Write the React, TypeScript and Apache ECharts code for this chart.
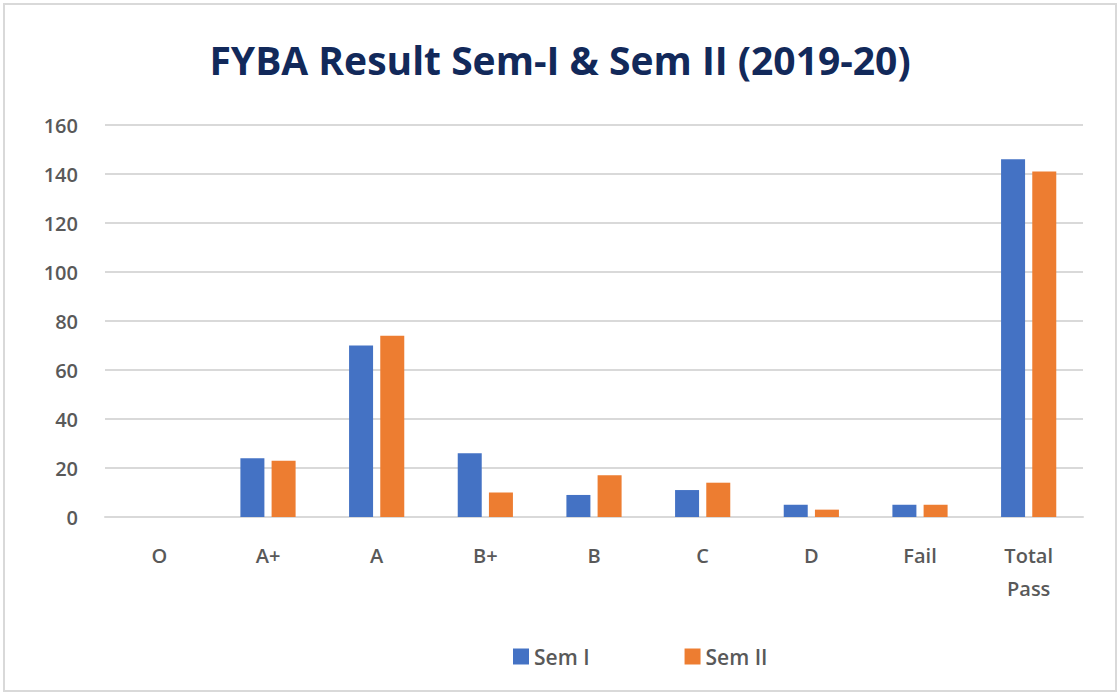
import React, { useEffect, useRef } from "react";
import * as echarts from "echarts";

const categories = ["O", "A+", "A", "B+", "B", "C", "D", "Fail", "Total\nPass"];
const semI = [0, 24, 70, 26, 9, 11, 5, 5, 146];
const semII = [0, 23, 74, 10, 17, 14, 3, 5, 141];
const seriesNames = ["Sem I", "Sem II"];
const titleText = "FYBA Result Sem-I & Sem II (2019-20)";

export default function App() {
  const ref = useRef<HTMLDivElement>(null);
  useEffect(() => {
    document.body.style.margin = "0";
    const chart = echarts.init(ref.current!, null, { renderer: "svg" });
    const font = "'Open Sans', 'Liberation Sans', sans-serif";
    chart.setOption({
      animation: false,
      backgroundColor: "#ffffff",
      textStyle: { fontFamily: font },
      title: {
        text: titleText,
        left: "center",
        top: 35,
        textStyle: { fontSize: 39, fontWeight: "bold", color: "#12295a", fontFamily: font },
      },
      legend: {
        data: seriesNames,
        bottom: 23,
        left: 508,
        itemWidth: 16,
        itemHeight: 16,
        itemGap: 95,
        icon: "rect",
        textStyle: { fontSize: 21, color: "#595959", fontWeight: 600, fontFamily: font },
      },
      grid: { left: 105, right: 37, top: 125, bottom: 178, containLabel: false },
      xAxis: {
        type: "category",
        data: categories,
        axisLine: { show: true, lineStyle: { color: "#d9d9d9", width: 2 } },
        axisTick: { show: false },
        axisLabel: { fontSize: 20, color: "#595959", fontWeight: 600, margin: 22, lineHeight: 33, fontFamily: font },
      },
      yAxis: {
        type: "value",
        min: 0,
        max: 160,
        interval: 20,
        axisLine: { show: false },
        axisTick: { show: false },
        splitLine: { lineStyle: { color: "#d9d9d9", width: 2 } },
        axisLabel: { fontSize: 20, color: "#595959", fontWeight: 600, margin: 27, fontFamily: font },
      },
      graphic: [
        {
          type: "rect",
          shape: { x: 4, y: 4, width: 1112, height: 687 },
          style: { fill: "none", stroke: "#d9d9d9", lineWidth: 2 },
          silent: true,
          z: -1,
        },
      ],
      series: [
        {
          name: seriesNames[0],
          type: "bar",
          data: semI,
          barWidth: 24,
          barGap: "30%",
          itemStyle: { color: "#4472c4" },
        },
        {
          name: seriesNames[1],
          type: "bar",
          data: semII,
          barWidth: 24,
          itemStyle: { color: "#ed7d31" },
        },
      ],
    });
    return () => chart.dispose();
  }, []);
  return <div ref={ref} style={{ width: 1120, height: 695 }} />;
}
